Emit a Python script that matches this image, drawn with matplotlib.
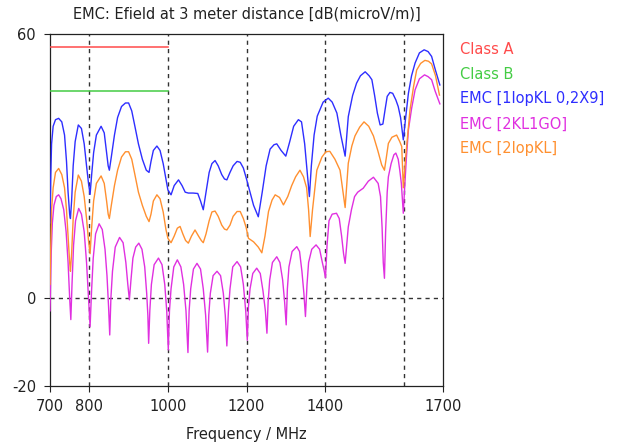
import matplotlib
matplotlib.use("Agg")
import matplotlib.pyplot as plt

# ---------------------------
# data
# ---------------------------
limit_freq = [700, 1000]
class_a = [57, 57]
class_b = [47, 47]

blue_freq = [700, 702, 704, 708, 714, 722, 730, 737, 742, 746, 750, 752, 755, 759, 764, 772,
             780, 787, 793, 798, 802, 806, 811, 818, 830, 838, 844, 848, 851, 856, 864, 872,
             882, 892, 900, 908, 916, 925, 935, 945, 952, 957, 963, 972, 980, 988, 995, 1000,
             1008, 1016, 1027, 1036, 1044, 1052, 1064, 1076, 1083, 1090, 1097, 1105, 1112, 1120,
             1128, 1137, 1144, 1150, 1158, 1166, 1176, 1184, 1192, 1200, 1209, 1218, 1230, 1240,
             1250, 1260, 1270, 1277, 1288, 1300, 1310, 1320, 1332, 1340, 1348, 1355, 1360, 1365,
             1372, 1380, 1395, 1408, 1418, 1430, 1440, 1451, 1459, 1470, 1480, 1490, 1502, 1512,
             1519, 1526, 1533, 1540, 1547, 1553, 1558, 1565, 1572, 1580, 1586, 1592, 1599, 1605,
             1612, 1620, 1629, 1640, 1652, 1662, 1671, 1680, 1692]
blue_db = [17, 28, 35, 39, 40.5, 40.8, 40, 37, 31, 24, 19, 18, 22, 30, 35.5, 39.3,
           38.5, 35, 30, 26, 23.5, 28, 33, 37, 39, 37.5, 33, 30, 29, 32, 37, 41,
           43.5, 44.3, 44.3, 42.5, 39, 35, 31.5, 29, 28.5, 31, 33.5, 34.5, 33.5, 30.5, 27, 24.5,
           23.4, 25.5, 26.8, 25.5, 24, 23.8, 23.8, 23.7, 22, 20, 24, 28.5, 30.5, 31.2,
           30, 28, 27, 26.8, 28.5, 30, 31, 30.8, 29.5, 27, 24, 21, 18.4, 24,
           30, 33.8, 34.8, 35, 33.5, 32.2, 35.5, 39, 40.5, 40, 35, 28, 23, 30,
           37, 41.3, 44.5, 45.4, 44.5, 42, 37, 32.2, 41.2, 46, 48.8, 50.5, 51.4, 50.5,
           49.6, 46, 42, 39.3, 39.5, 43, 45.8, 46.7, 46.5, 45, 43.5, 41, 35.9, 41,
           46.5, 50.5, 53.4, 55.7, 56.4, 56, 54.9, 52, 48.4]

magenta_freq = [700, 703, 706, 710, 716, 722, 728, 735, 741, 746, 750, 753,
                756, 760, 765, 773, 780, 787, 793, 798, 802,
                806, 810, 816, 825, 833, 840, 845, 849, 852,
                855, 859, 866, 877, 886, 893, 898, 902,
                906, 911, 918, 926, 934, 941, 946, 949, 951,
                954, 958, 965, 976, 985, 992, 997, 1001,
                1004, 1008, 1015, 1024, 1033, 1040, 1046, 1051,
                1054, 1058, 1065, 1074, 1083, 1090, 1096, 1101,
                1104, 1108, 1115, 1125, 1134, 1141, 1146, 1150,
                1154, 1158, 1165, 1176, 1185, 1192, 1198, 1202,
                1205, 1209, 1216, 1226, 1235, 1242, 1248, 1252,
                1255, 1259, 1266, 1277, 1285, 1292, 1297, 1301,
                1304, 1308, 1316, 1328, 1335, 1341, 1346, 1350,
                1354, 1358, 1366, 1377, 1386, 1393, 1398, 1401,
                1405, 1410, 1418, 1429, 1436, 1442, 1447, 1451,
                1455, 1459, 1467, 1475, 1483, 1497, 1510, 1523, 1535, 1541, 1545, 1548, 1551,
                1554, 1558, 1561, 1568, 1575, 1580, 1586, 1590, 1594, 1597, 1599,
                1603, 1607, 1612, 1620, 1629, 1640, 1653, 1662, 1671, 1680, 1692]
magenta_db = [-3, 10, 17, 21, 23, 23.4, 22.5, 20, 15, 8, 0, -5,
              3, 12, 17.5, 20.3, 19, 15, 8, 0, -6.6,
              2, 9, 14.5, 16.8, 15.5, 11, 5, -2, -8.5,
              0, 6, 11.5, 13.7, 12.5, 8, 3, -0.5,
              4, 9, 11.5, 12.4, 11, 7, 1, -4, -10.4,
              -3, 3, 7.5, 9, 7.5, 3, -3, -11.9,
              -3, 2, 7, 8.6, 7, 3, -3, -12.5,
              -3, 2, 6.5, 7.8, 6.5, 2, -4, -12.4,
              -4, 1, 5, 6, 5, 1, -4, -11,
              -3, 2, 7, 8.2, 7, 3, -3, -9.7,
              -2, 2, 5.5, 6.7, 5.5, 1.5, -3, -8.1,
              -1, 4, 8, 9.3, 8, 4, -1, -6.2,
              2, 7, 10.5, 11.6, 10.5, 6, 1, -4.3,
              3, 8, 11, 12, 11, 8, 6, 4.5,
              12, 17.5, 19, 19.2, 18, 14, 10, 7.8,
              12, 16.1, 20, 23, 24, 24.9, 26.5, 27.4, 26, 23, 16, 8, 4.4,
              15, 24, 27.5, 30.5, 32.5, 32.9, 31.5, 29, 26, 22, 19.2,
              26, 32, 38.2, 43, 47.3, 49.8, 50.7, 50.3, 49.6, 47, 44.1]

orange_freq = [700, 702, 704, 708, 714, 722, 730, 737, 742, 746, 750, 752, 755, 759, 764, 772,
               780, 787, 793, 798, 802, 806, 811, 818, 830, 838, 844, 848, 851, 856, 864, 872,
               882, 892, 900, 908, 916, 925, 935, 945, 952, 957, 963, 972, 980, 988, 995, 1000,
               1008, 1016, 1024, 1031, 1038, 1045, 1052, 1060, 1069, 1078, 1085, 1090, 1097, 1105,
               1112, 1120, 1128, 1137, 1144, 1150, 1158, 1166, 1176, 1184, 1192, 1199, 1205, 1218,
               1230, 1239, 1247, 1256, 1265, 1273, 1284, 1294, 1305, 1315, 1325, 1336, 1345, 1353,
               1358, 1362, 1368, 1379, 1392, 1402, 1412, 1425, 1438, 1451, 1459, 1468, 1476, 1488,
               1499, 1511, 1523, 1534, 1544, 1551, 1556, 1561, 1570, 1582, 1590, 1595, 1599, 1605,
               1616, 1625, 1633, 1643, 1654, 1663, 1671, 1681, 1691]
orange_db = [3, 12, 20, 25, 28.5, 29.4, 28, 25, 20, 14, 8, 6, 10, 18, 24, 27.9,
             26.5, 23, 18, 13, 10, 16, 22, 26, 27.7, 26, 22, 19, 18, 21, 25.5, 29,
             32, 33.2, 33.2, 31.5, 28, 24, 21, 18.5, 17.3, 19, 22, 23.4, 22.5, 19.5, 15.5, 13.5,
             12.5, 14, 15.8, 16.2, 14.5, 13, 12.4, 14, 15.4, 14, 13, 12.5, 14.5, 17.5,
             19.5, 19.7, 18.5, 16.5, 15.6, 15.4, 16.5, 18.5, 19.6, 19.6, 18, 16, 13.5, 12.7,
             11.5, 10.2, 14, 19.6, 22.2, 23.4, 22.8, 21.1, 23, 25.5, 27.5, 29, 27.5, 25,
             20, 13.9, 20, 29, 32, 33.2, 33.3, 31.5, 29, 20.5, 30.6, 34.5, 36.8, 38.8,
             40, 39, 36.8, 33.5, 30.2, 29, 32, 35.1, 36.5, 37, 35.5, 34.4, 25, 32,
             42.7, 48, 51.8, 53.3, 54, 53.8, 53.2, 50.5, 46.1]

xtick_vals = [700, 800, 1000, 1200, 1400, 1700]
ytick_vals = [-20, 0, 60]
grid_x = [800, 1000, 1200, 1400, 1600]

legend_labels = ["Class A", "Class B", "EMC [1lopKL 0,2X9]", "EMC [2KL1GO]", "EMC [2lopKL]"]
colors = ["#ff4a4a", "#44cc44", "#2e2eff", "#e030e0", "#ff9030"]

# ---------------------------
# plot
# ---------------------------
plt.rcParams['font.family'] = ['DejaVu Sans']
plt.rcParams['axes.unicode_minus'] = False
fig = plt.figure(figsize=(6.28, 4.48), dpi=100)
ax = fig.add_axes([50 / 628, 1 - 385.5 / 448, 393 / 628, 351.5 / 448])

for xv in grid_x:
    ax.axvline(xv, color="#333333", linestyle=(0, (3, 3)), linewidth=1.0, zorder=1)
ax.axhline(0, color="#333333", linestyle=(0, (3, 3)), linewidth=1.0, zorder=1)

ax.plot(limit_freq, class_a, color=colors[0], linewidth=1.1, zorder=3)
ax.plot(limit_freq, class_b, color=colors[1], linewidth=1.1, zorder=3)
ax.plot(blue_freq, blue_db, color=colors[2], linewidth=1.0, zorder=3)
ax.plot(magenta_freq, magenta_db, color=colors[3], linewidth=1.0, zorder=3)
ax.plot(orange_freq, orange_db, color=colors[4], linewidth=1.0, zorder=3)

ax.set_xlim(700, 1700)
ax.set_ylim(-20, 60)
ax.set_xticks(xtick_vals)
ax.set_yticks(ytick_vals)
ax.tick_params(direction="out", length=4, width=0.8, labelsize=10.5, colors="#222222", pad=6)
for sp in ax.spines.values():
    sp.set_linewidth(0.9)
    sp.set_color("#222222")

ax.set_xlabel("Frequency / MHz", fontsize=10.5, color="#222222", labelpad=9)
ax.set_title("EMC: Efield at 3 meter distance [dB(microV/m)]", fontsize=10.5, color="#222222", pad=11)

legend_y = [50, 74.5, 98.5, 124.5, 148.5]
for lab, c, yy in zip(legend_labels, colors, legend_y):
    fig.text(460 / 628, 1 - yy / 448, lab, color=c, fontsize=10.5, va="center", ha="left")

fig.savefig("out.png", dpi=100)
